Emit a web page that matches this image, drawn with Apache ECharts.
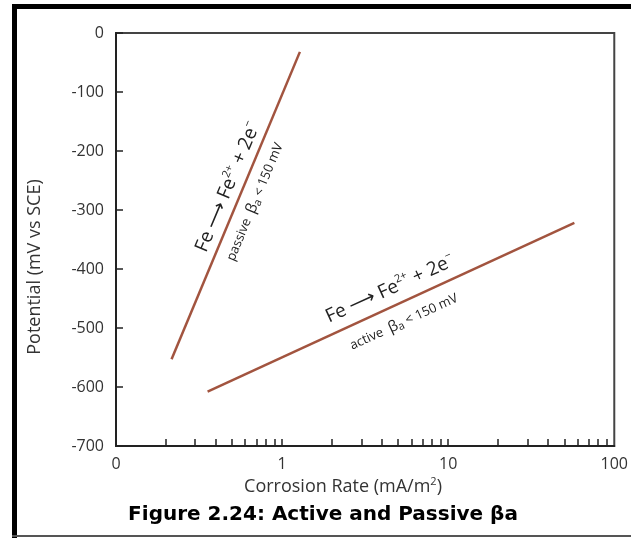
<!DOCTYPE html>
<html>
<head>
<meta charset="utf-8">
<script src="https://cdn.jsdelivr.net/npm/echarts@6/dist/echarts.min.js"></script>
<style>
  html, body { margin: 0; padding: 0; background: #fff; }
  #chart { width: 631px; height: 538px; }
</style>
</head>
<body>
<div id="chart"></div>
<script>
  var passiveX = [0.216, 1.28];
  var passiveY = [-553, -32];
  var activeX = [0.356, 57.5];
  var activeY = [-608, -322];

  var xTickValues = [0.2, 0.3, 0.4, 0.5, 0.6, 0.7, 0.8, 0.9, 1,
    2, 3, 4, 5, 6, 7, 8, 9, 10, 20, 30, 40, 50, 60, 70, 80, 90];
  var xLabelValues = [0.1, 1, 10, 100];
  var xLabelText = ['0', '1', '10', '100'];

  function pairs(xs, ys) {
    return xs.map(function (x, i) { return [x, ys[i]]; });
  }

  var lineColor = '#a2543f';
  var font = '"Open Sans", "Noto Sans", sans-serif';

  var eq = '{n|Fe ⟶ Fe}{sup|2+}{n| + 2e}{sup|−}';
  var eqRich = {
    n: { fontSize: 19, fontFamily: font, fill: '#222' },
    sup: { fontSize: 11, fontFamily: font, fill: '#222', padding: [0, 0, 12, 0] }
  };
  var smallRich = {
    s: { fontSize: 13, fontFamily: font, fill: '#222' },
    b: { fontSize: 15, fontFamily: font, fill: '#222' },
    sub: { fontSize: 11, fontFamily: font, fill: '#222', padding: [6, 0, 0, 0] }
  };

  var chart = echarts.init(document.getElementById('chart'));
  chart.setOption({
    animation: false,
    grid: {
      left: 116, top: 33, right: 14, bottom: 92,
      show: true, borderColor: '#444', borderWidth: 2
    },
    xAxis: {
      type: 'log',
      logBase: 10,
      min: 0.1,
      max: 100,
      axisLine: { onZero: false, lineStyle: { color: '#222', width: 2 } },
      axisTick: {
        inside: true, length: 7, customValues: xTickValues,
        lineStyle: { color: '#222', width: 1.5 }
      },
      axisLabel: {
        customValues: xLabelValues,
        margin: 10,
        fontSize: 16,
        fontFamily: font,
        color: '#333',
        formatter: function (v) {
          var i = xLabelValues.findIndex(function (t) { return Math.abs(t - v) < 1e-9; });
          return i >= 0 ? xLabelText[i] : '';
        }
      },
      splitLine: { show: false }
    },
    yAxis: {
      type: 'value',
      min: -700,
      max: 0,
      interval: 100,
      axisLine: { show: true, onZero: false, lineStyle: { color: '#222', width: 2 } },
      axisTick: { show: true, inside: true, length: 7, lineStyle: { color: '#222', width: 1.5 } },
      axisLabel: { margin: 12, fontSize: 16, fontFamily: font, color: '#333' },
      splitLine: { show: false }
    },
    series: [
      {
        name: 'passive',
        type: 'line',
        symbol: 'none',
        data: pairs(passiveX, passiveY),
        lineStyle: { color: lineColor, width: 2.5 }
      },
      {
        name: 'active',
        type: 'line',
        symbol: 'none',
        data: pairs(activeX, activeY),
        lineStyle: { color: lineColor, width: 2.5 }
      }
    ],
    graphic: [
      // outer frame
      { type: 'rect', shape: { x: 12, y: 4, width: 619, height: 5 }, style: { fill: '#000' } },
      { type: 'rect', shape: { x: 12, y: 4, width: 5, height: 534 }, style: { fill: '#000' } },
      { type: 'rect', shape: { x: 12, y: 535, width: 619, height: 2 }, style: { fill: '#555' } },
      // axis names
      {
        type: 'text', x: 35, y: 267, rotation: Math.PI / 2,
        style: { text: 'Potential (mV vs SCE)', font: '18px ' + font, fill: '#333', align: 'center', verticalAlign: 'middle' }
      },
      {
        type: 'text', x: 343, y: 487,
        style: { text: '{t|Corrosion Rate (mA/m}{sup|2}{t|)}', rich: {
          t: { fontSize: 18, fontFamily: font, fill: '#333' },
          sup: { fontSize: 11, fontFamily: font, fill: '#333', padding: [0, 0, 10, 0] }
        }, align: 'center', verticalAlign: 'middle' }
      },
      {
        type: 'text', x: 323, y: 515,
        style: { text: 'Figure 2.24: Active and Passive βa', font: 'bold 20px "DejaVu Sans", sans-serif', fill: '#000', align: 'center', verticalAlign: 'middle' }
      },
      // passive annotations
      {
        type: 'text', x: 228, y: 187, rotation: 1.173,
        style: { text: eq, rich: eqRich, align: 'center', verticalAlign: 'middle' }
      },
      {
        type: 'text', x: 255, y: 202, rotation: 1.173,
        style: { text: '{s|passive  }{b|β}{sub|a}{s| < 150 mV}', rich: smallRich, align: 'center', verticalAlign: 'middle' }
      },
      // active annotations
      {
        type: 'text', x: 390, y: 289, rotation: 0.429,
        style: { text: eq, rich: eqRich, align: 'center', verticalAlign: 'middle' }
      },
      {
        type: 'text', x: 404, y: 322, rotation: 0.429,
        style: { text: '{s|active  }{b|β}{sub|a}{s| < 150 mV}', rich: smallRich, align: 'center', verticalAlign: 'middle' }
      }
    ]
  });
</script>
</body>
</html>
